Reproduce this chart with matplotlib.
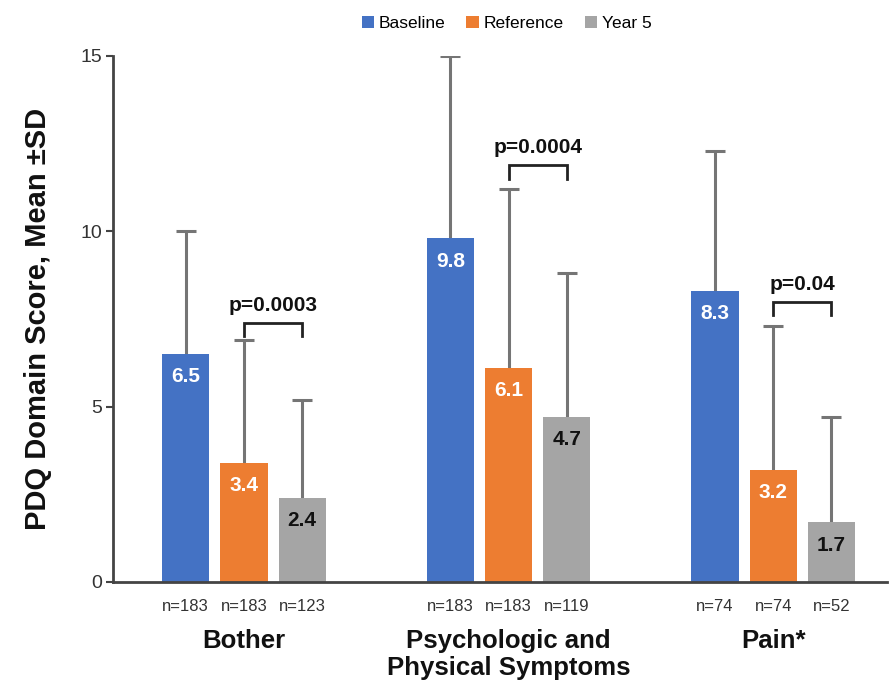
import numpy as np
import matplotlib
matplotlib.use('Agg')
import matplotlib.pyplot as plt

plt.rcParams['font.family'] = ['Liberation Sans', 'DejaVu Sans']

# data
domains = ['Bother', 'Psychologic and\nPhysical Symptoms', 'Pain*']
series = ['Baseline', 'Reference', 'Year 5']
colors = ['#4472C4', '#ED7D31', '#A5A5A5']
baseline = [6.5, 9.8, 8.3]
reference = [3.4, 6.1, 3.2]
year5 = [2.4, 4.7, 1.7]
baseline_sd = [3.5, 5.2, 4.0]
reference_sd = [3.5, 5.1, 4.1]
year5_sd = [2.8, 4.1, 3.0]
n_baseline = [183, 183, 74]
n_reference = [183, 183, 74]
n_year5 = [123, 119, 52]
p_values = ['p=0.0003', 'p=0.0004', 'p=0.04']
bracket_y = [7.38, 11.88, 7.98]

means = [baseline, reference, year5]
sds = [baseline_sd, reference_sd, year5_sd]
ns = [n_baseline, n_reference, n_year5]
label_colors = ['white', 'white', '#111111']

fig = plt.figure(figsize=(8.89, 6.85), dpi=100)
ax = fig.add_axes([0.1271, 0.1504, 0.8706, 0.768])

x = np.arange(len(domains))
step = 0.22
width = 0.178
cap = 0.038
err_color = '#757575'

for i in range(3):
    pos = x + (i - 1) * step
    vals = np.array(means[i])
    err = np.array(sds[i])
    ax.bar(pos, vals, width, color=colors[i], label=series[i], zorder=2)
    # upper-only error bars
    ax.vlines(pos, vals, vals + err, color=err_color, lw=2.2, zorder=1)
    ax.hlines(vals + err, pos - cap, pos + cap, color=err_color, lw=2.2, zorder=1)
    for xp, v, n in zip(pos, vals, ns[i]):
        ax.text(xp, v - 0.65, f'{v:.1f}', ha='center', va='center', fontsize=15,
                fontweight='bold', color=label_colors[i], zorder=4)
        ax.annotate(f'n={n}', xy=(xp, 0), xycoords=('data', 'axes fraction'),
                    xytext=(0, -17.5), textcoords='offset points', ha='center', va='center',
                    fontsize=12, color='#333333')

# significance brackets between Reference and Year 5
for g in range(3):
    x1 = x[g]
    x2 = x[g] + step
    yb = bracket_y[g]
    ax.plot([x1, x1, x2, x2], [yb - 0.38, yb, yb, yb - 0.38], color='#222222', lw=2,
            solid_joinstyle='miter', zorder=3)
    ax.text((x1 + x2) / 2, yb + 0.5, p_values[g], ha='center', va='center', fontsize=15,
            fontweight='bold', color='#111111')

for g in range(3):
    ax.annotate(domains[g], xy=(x[g], 0), xycoords=('data', 'axes fraction'),
                xytext=(0, -34), textcoords='offset points', ha='center', va='top',
                fontsize=18.5, fontweight='bold', color='#111111', linespacing=1.15)

ax.set_xlim(-0.495, 2.43)
ax.set_ylim(0, 15)
ax.set_yticks([0, 5, 10, 15])
ax.set_xticks([])
ax.spines['top'].set_visible(False)
ax.spines['right'].set_visible(False)
for s in ['left', 'bottom']:
    ax.spines[s].set_color('#444444')
    ax.spines[s].set_linewidth(2)
ax.tick_params(axis='y', length=5, width=1.5, color='#444444', labelsize=14,
               labelcolor='#333333', pad=3)
ax.set_ylabel('PDQ Domain Score, Mean ±SD', fontsize=21, fontweight='bold',
              color='#111111', labelpad=20)

fig.legend(loc='upper center', bbox_to_anchor=(0.57, 1.0), ncol=3, frameon=False,
           fontsize=12.5, handlelength=0.7, handleheight=0.7, handletextpad=0.3,
           columnspacing=1.2)

fig.savefig('out.png', dpi=100)
